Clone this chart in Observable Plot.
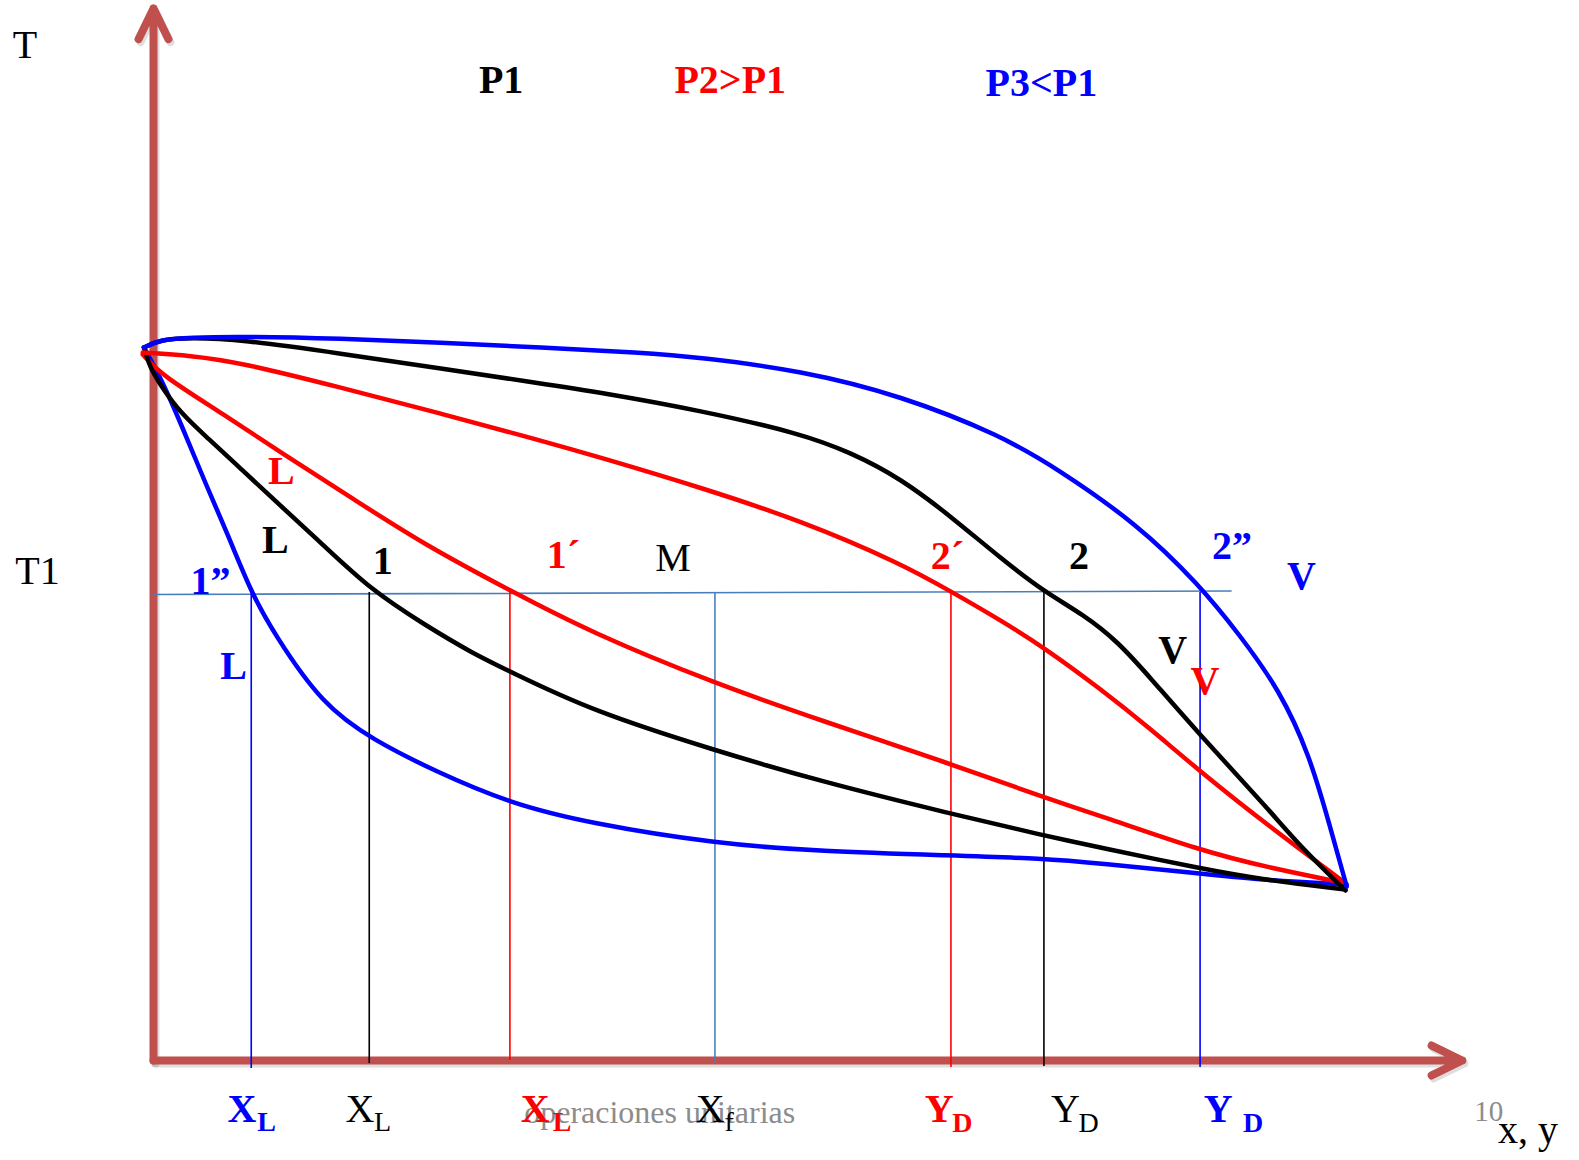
<!DOCTYPE html>
<html><head><meta charset="utf-8">
<script src="https://cdn.jsdelivr.net/npm/d3@7"></script>
<script src="https://cdn.jsdelivr.net/npm/@observablehq/plot@0.6"></script>
<style>html,body{margin:0;padding:0;background:#fff;} #chart svg{display:block;}</style>
</head><body><div id="chart"></div>
<script>
// Composition x (0 = heavy, 1 = light) and temperature T (arbitrary units)
const blackDew = [[-0.008,71.3],[0.006,72.1],[0.031,72.3],[0.073,72.1],[0.157,70.7],[0.241,69.2],[0.325,67.7],[0.375,66.8],[0.459,65.0],[0.543,62.7],[0.585,60.8],[0.627,58.2],[0.669,54.4],[0.711,50.2],[0.747,46.9],[0.780,44.6],[0.809,41.9],[0.836,38.3],[0.876,32.8],[0.935,25.2],[0.962,21.4],[1.0,17.0]];
const blackBubble = [[-0.008,71.3],[-0.003,69.3],[0.006,67.5],[0.023,64.7],[0.045,62.3],[0.073,59.2],[0.100,56.2],[0.142,51.6],[0.182,47.1],[0.227,43.6],[0.268,40.7],[0.299,38.9],[0.367,35.0],[0.471,31.0],[0.560,27.9],[0.668,24.7],[0.747,22.5],[0.794,21.3],[0.878,19.2],[0.935,18.0],[1.0,17.1]];
const redDew = [[-0.009,70.8],[0.031,70.5],[0.073,69.8],[0.157,67.3],[0.241,64.7],[0.325,62.0],[0.375,60.3],[0.459,57.3],[0.543,54.0],[0.627,49.7],[0.669,46.9],[0.711,44.0],[0.747,41.3],[0.794,37.2],[0.836,33.2],[0.877,29.0],[0.935,23.5],[0.997,18.0]];
const redBubble = [[-0.009,70.6],[0.007,68.5],[0.058,64.7],[0.108,60.7],[0.167,56.2],[0.227,51.6],[0.299,47.0],[0.367,42.8],[0.471,37.7],[0.560,34.0],[0.668,29.7],[0.747,26.3],[0.794,24.5],[0.878,21.0],[0.935,19.3],[0.997,17.8]];
const blueDew = [[-0.008,71.3],[0.006,72.1],[0.031,72.3],[0.073,72.4],[0.157,72.2],[0.241,71.8],[0.325,71.3],[0.409,70.8],[0.459,70.3],[0.543,69.0],[0.627,66.5],[0.711,62.5],[0.758,59.2],[0.826,53.6],[0.877,47.6],[0.911,42.6],[0.945,37.0],[0.970,30.5],[0.987,23.4],[1.001,17.4]];
const blueBubble = [[-0.008,71.3],[0.006,68.3],[0.023,63.7],[0.045,57.3],[0.062,52.7],[0.082,46.8],[0.101,42.7],[0.142,35.5],[0.185,32.0],[0.235,29.0],[0.299,25.7],[0.367,23.7],[0.471,21.7],[0.560,20.9],[0.668,20.5],[0.747,20.2],[0.794,19.7],[0.878,18.7],[0.935,18.0],[1.001,17.6]];

const T1 = 46.8;
const t1Line = [[0,46.6],[0.904,46.95]];
const dropX = [0.082,0.181,0.299,0.471,0.669,0.747,0.878];
const dropColor = ["#0000ff","#000000","#ff0000","#4a7ebb","#ff0000","#000000","#0000ff"];
const dropBottom = [-0.8,-0.3,0,-0.2,-0.7,-0.6,-0.7];

const axisEnds = [{x1:0,y1:0,x2:0,y2:105.2},{x1:0,y1:0,x2:1.098,y2:0}];

// labels: [text, x, T]
const titleBlack = [["P1",0.273,96.8]];
const titleRed = [["P2>P1",0.437,96.8]];
const titleBlue = [["P3<P1",0.698,96.5]];
const plainLabels = [["T",-0.118,100.3],["T1",-0.116,47.7],["M",0.421,49.0],["x, y",1.128,-8.2]];
const blackBold = [["L",0.091,50.8],["1",0.184,48.7],["2",0.768,49.2],["V",0.843,39.8]];
const redBold = [["L",0.096,57.7],["1´",0.330,49.3],["2´",0.652,49.2],["V",0.870,36.7]];
const blueBold = [["1”",0.031,46.7],["L",0.056,38.2],["2”",0.888,50.2],["V",0.951,47.2]];
// axis labels: [text, x, T, color]
const axisMainBold = [["X",0.062,-6.1,"#0000ff"],["X",0.308,-6.1,"#ff0000"],["Y",0.647,-6.1,"#ff0000"],["Y",0.881,-6.1,"#0000ff"]];
const axisMainPlain = [["X",0.161,-6.1,"#000000"],["X",0.455,-6.1,"#000000"],["Y",0.753,-6.1,"#000000"]];
const axisSubBold = [["L",0.087,-7.0,"#0000ff"],["L",0.335,-7.0,"#ff0000"],["D",0.670,-7.1,"#ff0000"],["D",0.914,-7.1,"#0000ff"]];
const axisSubPlain = [["L",0.185,-7.0,"#000000"],["f",0.479,-7.0,"#000000"],["D",0.776,-7.1,"#000000"]];
const footerText = [["operaciones unitarias",0.311,-6.2]];
const pageNumber = [["10",1.108,-6.0]];

const drops = dropX.map((x,i)=>({x, top:T1, bottom:dropBottom[i], color:dropColor[i]}));
const P = d=>d[0], Q = d=>d[1];
const curve = (data, stroke) => Plot.line(data, {x:P, y:Q, stroke, strokeWidth:4.5, curve:"basis", strokeLinejoin:"round", strokeLinecap:"round"});
const txt = (data, fill, weight, size) => Plot.text(data, {x:d=>d[1], y:d=>d[2], text:d=>d[0], fill, fontWeight:weight, fontSize:size, textAnchor:"start", lineAnchor:"bottom"});
const ctxt = (data, weight, size) => Plot.text(data, {x:d=>d[1], y:d=>d[2], text:d=>d[0], fill:d=>d[3], fontWeight:weight, fontSize:size, textAnchor:"start", lineAnchor:"bottom"});

const chart = Plot.plot({
  width:1579, height:1160, margin:0,
  style:{background:"#ffffff", fontFamily:"'Liberation Serif', 'Times New Roman', serif"},
  x:{domain:[0,1], range:[153,1345], axis:null},
  y:{domain:[0,105], range:[1060,10], axis:null},
  color:{type:"identity"},
  marks:[
    Plot.arrow(axisEnds, {x1:"x1",y1:"y1",x2:"x2",y2:"y2", stroke:"#000", strokeOpacity:0.13, strokeWidth:8, headAngle:52, headLength:6.4, dx:2, dy:3, strokeLinecap:"round", strokeLinejoin:"round"}),
    Plot.arrow(axisEnds, {x1:"x1",y1:"y1",x2:"x2",y2:"y2", stroke:"#c0504d", strokeWidth:8, headAngle:52, headLength:6.4, strokeLinecap:"round", strokeLinejoin:"round"}),
    Plot.line(t1Line, {x:P, y:Q, stroke:"#4a7ebb", strokeWidth:1.6}),
    Plot.ruleX(drops, {x:"x", y1:"top", y2:"bottom", stroke:"color", strokeWidth:1.6}),
    curve(blueBubble, "#0000ff"),
    curve(redBubble, "#ff0000"),
    curve(blackBubble, "#000000"),
    curve(redDew, "#ff0000"),
    curve(blackDew, "#000000"),
    curve(blueDew, "#0000ff"),
    txt(titleBlack, "#000000", "bold", 40),
    txt(titleRed, "#ff0000", "bold", 40),
    txt(titleBlue, "#0000ff", "bold", 40),
    txt(plainLabels, "#000000", "normal", 40),
    txt(blackBold, "#000000", "bold", 40),
    txt(redBold, "#ff0000", "bold", 40),
    txt(blueBold, "#0000ff", "bold", 40),
    txt(footerText, "#8c8c8c", "normal", 32),
    txt(pageNumber, "#8c8c8c", "normal", 29),
    ctxt(axisMainBold, "bold", 40),
    ctxt(axisMainPlain, "normal", 40),
    ctxt(axisSubBold, "bold", 28),
    ctxt(axisSubPlain, "normal", 28)
  ]
});
document.getElementById("chart").appendChild(chart);
</script>
</body></html>
